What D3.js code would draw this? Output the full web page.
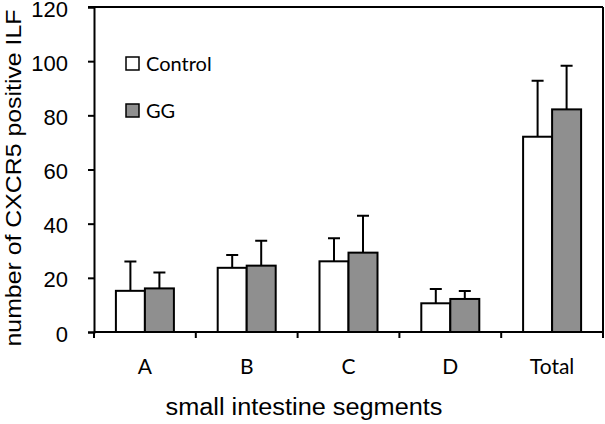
<!DOCTYPE html>
<html lang="en">
<head>
  <meta charset="UTF-8" />
  <title>CXCR5 positive ILF</title>
  <script src="https://d3js.org/d3.v7.min.js"></script>
  <style>
    body { margin: 0; background: white; }
    svg { display: block; }
  </style>
</head>
<body>
<svg id="chart" width="605" height="424"></svg>
<script>
// Data
const segments = ['A', 'B', 'C', 'D', 'Total'];
const series = ['Control', 'GG'];
const controlMean = [15.2, 23.7, 26.1, 10.6, 72.1];
const controlErr = [10.8, 4.7, 8.5, 5.3, 20.7];
const ggMean = [16.1, 24.5, 29.3, 12.2, 82.2];
const ggErr = [5.9, 9.2, 13.6, 2.9, 16.1];
const yTicks = [0, 20, 40, 60, 80, 100, 120];

const colors = { Control: '#ffffff', GG: '#8f8f8f' };

const svg = d3.select('#chart');
const plotLeft = 94, plotRight = 603, plotTop = 7, plotBottom = 332;

const x = d3.scaleBand().domain(segments).range([plotLeft, plotRight]).padding(0);
const barW = 29;
const xs = d3.scaleBand().domain(series).range([0, barW * 2]);
const y = d3.scaleLinear().domain([0, 120]).range([plotBottom, plotTop]);

const rows = segments.map((s, i) => ({
  seg: s,
  vals: [
    { key: 'Control', mean: controlMean[i], err: controlErr[i] },
    { key: 'GG', mean: ggMean[i], err: ggErr[i] }
  ]
}));

// frame (top and right lines)
svg.append('line')
  .attr('x1', plotLeft - 6).attr('x2', plotRight)
  .attr('y1', plotTop).attr('y2', plotTop)
  .attr('stroke', '#000').attr('stroke-width', 2);
svg.append('line')
  .attr('x1', plotRight).attr('x2', plotRight)
  .attr('y1', plotTop).attr('y2', plotBottom + 6)
  .attr('stroke', '#000').attr('stroke-width', 2);

// y axis
const yAxis = svg.append('g')
  .attr('transform', `translate(${plotLeft},0)`)
  .call(d3.axisLeft(y).tickValues(yTicks).tickSize(6).tickPadding(20));
yAxis.select('.domain').attr('stroke-width', 2);
yAxis.selectAll('.tick line').attr('stroke-width', 2);
yAxis.selectAll('.tick text')
  .attr('font-family', '"Liberation Sans", Arial, sans-serif')
  .attr('font-size', 22)
  .attr('y', 2)
  .attr('fill', '#000');

// x axis: ticks at band boundaries
const xAxisG = svg.append('g');
xAxisG.append('line')
  .attr('x1', plotLeft).attr('x2', plotRight)
  .attr('y1', plotBottom).attr('y2', plotBottom)
  .attr('stroke', '#000').attr('stroke-width', 2);
const bounds = segments.map(s => x(s)).concat([x(segments[segments.length - 1]) + x.bandwidth()]);
xAxisG.selectAll('.xt').data(bounds).enter().append('line')
  .attr('x1', d => d).attr('x2', d => d)
  .attr('y1', plotBottom).attr('y2', plotBottom + 6)
  .attr('stroke', '#000').attr('stroke-width', 2);
xAxisG.selectAll('.xl').data(segments).enter().append('text')
  .attr('x', d => x(d) + x.bandwidth() / 2)
  .attr('y', 374)
  .attr('text-anchor', 'middle')
  .attr('font-family', 'Lato, "Open Sans", sans-serif')
  .attr('font-size', 21)
  .text(d => d);

// bars
const groups = svg.selectAll('.grp').data(rows).enter().append('g')
  .attr('transform', d => `translate(${x(d.seg) + (x.bandwidth() - barW * 2) / 2},0)`);

// error bars (upper only), drawn first so bars sit on top
groups.selectAll('.err').data(d => d.vals).enter().append('path')
  .attr('d', d => {
    const cx = xs(d.key) + xs.bandwidth() / 2;
    return `M${cx},${y(d.mean)}V${y(d.mean + d.err)}M${cx - 6},${y(d.mean + d.err)}H${cx + 6}`;
  })
  .attr('fill', 'none')
  .attr('stroke', '#000')
  .attr('stroke-width', 2);

groups.selectAll('.bar').data(d => d.vals).enter().append('rect')
  .attr('x', d => xs(d.key))
  .attr('y', d => y(d.mean))
  .attr('width', xs.bandwidth())
  .attr('height', d => y(0) - y(d.mean))
  .attr('fill', d => colors[d.key])
  .attr('stroke', '#000')
  .attr('stroke-width', 2);

// legend
const legend = svg.selectAll('.leg').data(series).enter().append('g')
  .attr('transform', (d, i) => `translate(126,${57 + i * 47})`);
legend.append('rect')
  .attr('width', 13).attr('height', 13)
  .attr('fill', d => colors[d])
  .attr('stroke', '#000').attr('stroke-width', 1.5);
legend.append('text')
  .attr('x', 20).attr('y', 14)
  .attr('font-family', 'Lato, "Open Sans", sans-serif')
  .attr('font-size', 20)
  .text(d => d);

// axis titles
svg.append('text')
  .attr('transform', 'translate(21,178) rotate(-90)')
  .attr('text-anchor', 'middle')
  .attr('font-family', '"Liberation Sans", Arial, sans-serif')
  .attr('font-size', 22)
  .attr('textLength', 337)
  .attr('lengthAdjust', 'spacingAndGlyphs')
  .text('number of CXCR5 positive ILF');

svg.append('text')
  .attr('x', 304).attr('y', 415)
  .attr('text-anchor', 'middle')
  .attr('font-family', '"Liberation Sans", Arial, sans-serif')
  .attr('font-size', 23)
  .attr('textLength', 277)
  .attr('lengthAdjust', 'spacingAndGlyphs')
  .text('small intestine segments');
</script>
</body>
</html>
